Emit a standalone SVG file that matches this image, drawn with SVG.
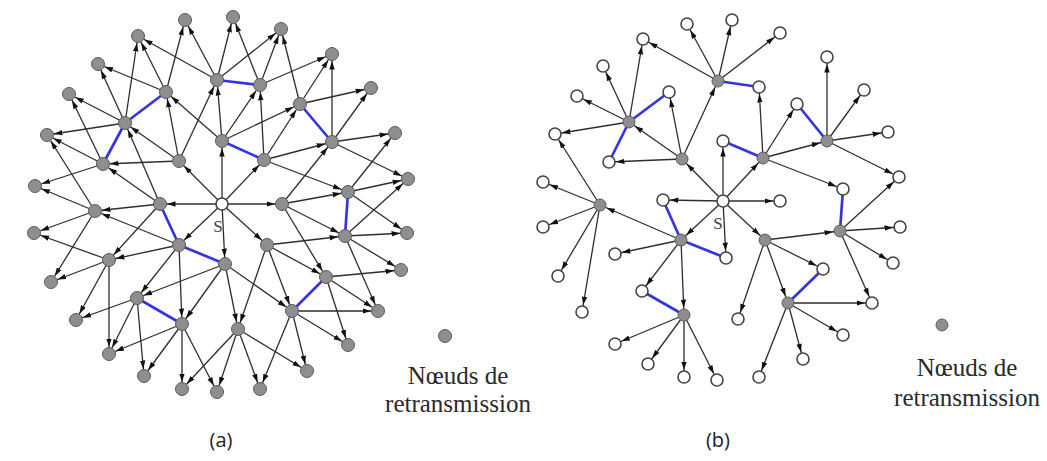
<svg xmlns="http://www.w3.org/2000/svg" width="1047" height="461" viewBox="0 0 1047 461">
<style>
.e{stroke:#2e2e2e;stroke-width:1.3;marker-end:url(#ah)}
.b{stroke:#3535e0;stroke-width:2.7;stroke-linecap:round}
.g{fill:#8e8e8e;stroke:#5c5c5c;stroke-width:1}
.w{fill:#fff;stroke:#444;stroke-width:1.6}
.t{font-family:"Liberation Serif","Times New Roman",serif;font-size:25px;fill:#2a2a2a;text-anchor:middle}
.s{font-family:"Liberation Serif","Times New Roman",serif;font-size:17px;fill:#444;text-anchor:middle}
.l{font-family:"Open Sans","Liberation Sans",Arial,sans-serif;font-size:20px;fill:#222;text-anchor:middle}
</style>
<defs>
<marker id="ah" viewBox="0 0 16 6" refX="15.5" refY="3" markerWidth="16" markerHeight="6" markerUnits="userSpaceOnUse" orient="auto"><path d="M0,0.3 L8.5,3 L0,5.7 z" fill="#111"/></marker>
</defs>
<rect width="1047" height="461" fill="#fff"/>
<g id="connectors-a">
<line class="e" x1="222" y1="204" x2="222" y2="141"/>
<line class="e" x1="222" y1="204" x2="179" y2="161"/>
<line class="e" x1="222" y1="204" x2="160" y2="204"/>
<line class="e" x1="222" y1="204" x2="179" y2="245"/>
<line class="e" x1="222" y1="204" x2="225" y2="264"/>
<line class="e" x1="222" y1="204" x2="267" y2="245"/>
<line class="e" x1="222" y1="204" x2="282" y2="204"/>
<line class="e" x1="222" y1="204" x2="264" y2="160"/>
<line class="e" x1="179" y1="161" x2="166" y2="92"/>
<line class="e" x1="179" y1="161" x2="103" y2="164"/>
<line class="e" x1="179" y1="161" x2="125" y2="123"/>
<line class="e" x1="179" y1="161" x2="217" y2="80"/>
<line class="e" x1="222" y1="141" x2="217" y2="80"/>
<line class="e" x1="222" y1="141" x2="166" y2="92"/>
<line class="e" x1="222" y1="141" x2="260" y2="85"/>
<line class="e" x1="222" y1="141" x2="300" y2="104"/>
<line class="e" x1="160" y1="204" x2="103" y2="164"/>
<line class="e" x1="160" y1="204" x2="125" y2="123"/>
<line class="e" x1="160" y1="204" x2="95" y2="211"/>
<line class="e" x1="160" y1="204" x2="109" y2="260"/>
<line class="e" x1="166" y1="92" x2="138" y2="36"/>
<line class="e" x1="166" y1="92" x2="185" y2="20"/>
<line class="e" x1="166" y1="92" x2="98" y2="64"/>
<line class="e" x1="125" y1="123" x2="138" y2="36"/>
<line class="e" x1="125" y1="123" x2="98" y2="64"/>
<line class="e" x1="125" y1="123" x2="69" y2="94"/>
<line class="e" x1="125" y1="123" x2="47" y2="135"/>
<line class="e" x1="103" y1="164" x2="69" y2="94"/>
<line class="e" x1="103" y1="164" x2="47" y2="135"/>
<line class="e" x1="103" y1="164" x2="35" y2="186"/>
<line class="e" x1="217" y1="80" x2="138" y2="36"/>
<line class="e" x1="217" y1="80" x2="185" y2="20"/>
<line class="e" x1="217" y1="80" x2="233" y2="17"/>
<line class="e" x1="217" y1="80" x2="281" y2="29"/>
<line class="e" x1="260" y1="85" x2="233" y2="17"/>
<line class="e" x1="260" y1="85" x2="281" y2="29"/>
<line class="e" x1="260" y1="85" x2="332" y2="54"/>
<line class="e" x1="264" y1="160" x2="260" y2="85"/>
<line class="e" x1="264" y1="160" x2="300" y2="104"/>
<line class="e" x1="264" y1="160" x2="332" y2="142"/>
<line class="e" x1="264" y1="160" x2="348" y2="192"/>
<line class="e" x1="300" y1="104" x2="281" y2="29"/>
<line class="e" x1="300" y1="104" x2="332" y2="54"/>
<line class="e" x1="300" y1="104" x2="371" y2="88"/>
<line class="e" x1="332" y1="142" x2="332" y2="54"/>
<line class="e" x1="332" y1="142" x2="371" y2="88"/>
<line class="e" x1="332" y1="142" x2="395" y2="133"/>
<line class="e" x1="332" y1="142" x2="408" y2="179"/>
<line class="e" x1="282" y1="204" x2="332" y2="142"/>
<line class="e" x1="282" y1="204" x2="348" y2="192"/>
<line class="e" x1="282" y1="204" x2="345" y2="236"/>
<line class="e" x1="282" y1="204" x2="326" y2="277"/>
<line class="e" x1="348" y1="192" x2="395" y2="133"/>
<line class="e" x1="348" y1="192" x2="408" y2="179"/>
<line class="e" x1="348" y1="192" x2="407" y2="233"/>
<line class="e" x1="345" y1="236" x2="408" y2="179"/>
<line class="e" x1="345" y1="236" x2="407" y2="233"/>
<line class="e" x1="345" y1="236" x2="401" y2="270"/>
<line class="e" x1="345" y1="236" x2="378" y2="311"/>
<line class="e" x1="267" y1="245" x2="345" y2="236"/>
<line class="e" x1="267" y1="245" x2="326" y2="277"/>
<line class="e" x1="267" y1="245" x2="292" y2="311"/>
<line class="e" x1="267" y1="245" x2="238" y2="329"/>
<line class="e" x1="326" y1="277" x2="401" y2="270"/>
<line class="e" x1="326" y1="277" x2="378" y2="311"/>
<line class="e" x1="326" y1="277" x2="348" y2="345"/>
<line class="e" x1="292" y1="311" x2="378" y2="311"/>
<line class="e" x1="292" y1="311" x2="348" y2="345"/>
<line class="e" x1="292" y1="311" x2="307" y2="371"/>
<line class="e" x1="292" y1="311" x2="260" y2="389"/>
<line class="e" x1="225" y1="264" x2="292" y2="311"/>
<line class="e" x1="225" y1="264" x2="238" y2="329"/>
<line class="e" x1="225" y1="264" x2="137" y2="298"/>
<line class="e" x1="225" y1="264" x2="182" y2="324"/>
<line class="e" x1="238" y1="329" x2="307" y2="371"/>
<line class="e" x1="238" y1="329" x2="260" y2="389"/>
<line class="e" x1="238" y1="329" x2="217" y2="392"/>
<line class="e" x1="238" y1="329" x2="182" y2="389"/>
<line class="e" x1="179" y1="245" x2="109" y2="260"/>
<line class="e" x1="179" y1="245" x2="137" y2="298"/>
<line class="e" x1="179" y1="245" x2="182" y2="324"/>
<line class="e" x1="179" y1="245" x2="95" y2="211"/>
<line class="e" x1="109" y1="260" x2="34" y2="233"/>
<line class="e" x1="109" y1="260" x2="51" y2="282"/>
<line class="e" x1="109" y1="260" x2="76" y2="320"/>
<line class="e" x1="109" y1="260" x2="109" y2="354"/>
<line class="e" x1="137" y1="298" x2="76" y2="320"/>
<line class="e" x1="137" y1="298" x2="109" y2="354"/>
<line class="e" x1="137" y1="298" x2="144" y2="376"/>
<line class="e" x1="182" y1="324" x2="109" y2="354"/>
<line class="e" x1="182" y1="324" x2="144" y2="376"/>
<line class="e" x1="182" y1="324" x2="182" y2="389"/>
<line class="e" x1="182" y1="324" x2="217" y2="392"/>
<line class="e" x1="95" y1="211" x2="34" y2="233"/>
<line class="e" x1="95" y1="211" x2="51" y2="282"/>
<line class="e" x1="95" y1="211" x2="35" y2="186"/>
<line class="e" x1="95" y1="211" x2="47" y2="135"/>
<line class="b" x1="166" y1="92" x2="125" y2="123"/>
<line class="b" x1="125" y1="123" x2="103" y2="164"/>
<line class="b" x1="217" y1="80" x2="260" y2="85"/>
<line class="b" x1="222" y1="141" x2="264" y2="160"/>
<line class="b" x1="300" y1="104" x2="332" y2="142"/>
<line class="b" x1="348" y1="192" x2="345" y2="236"/>
<line class="b" x1="160" y1="204" x2="179" y2="245"/>
<line class="b" x1="179" y1="245" x2="225" y2="264"/>
<line class="b" x1="137" y1="298" x2="182" y2="324"/>
<line class="b" x1="326" y1="277" x2="292" y2="311"/>
</g>
<g id="connectors-b">
<line class="e" x1="723" y1="201" x2="723" y2="141"/>
<line class="e" x1="723" y1="201" x2="763" y2="158"/>
<line class="e" x1="723" y1="201" x2="780" y2="201"/>
<line class="e" x1="723" y1="201" x2="765" y2="240"/>
<line class="e" x1="723" y1="201" x2="726" y2="258"/>
<line class="e" x1="723" y1="201" x2="681" y2="240"/>
<line class="e" x1="723" y1="201" x2="663" y2="200"/>
<line class="e" x1="723" y1="201" x2="682" y2="159"/>
<line class="e" x1="682" y1="159" x2="629" y2="122"/>
<line class="e" x1="682" y1="159" x2="609" y2="162"/>
<line class="e" x1="682" y1="159" x2="669" y2="92"/>
<line class="e" x1="682" y1="159" x2="718" y2="81"/>
<line class="e" x1="718" y1="81" x2="687" y2="24"/>
<line class="e" x1="718" y1="81" x2="732" y2="20"/>
<line class="e" x1="718" y1="81" x2="780" y2="33"/>
<line class="e" x1="718" y1="81" x2="643" y2="39"/>
<line class="e" x1="629" y1="122" x2="603" y2="66"/>
<line class="e" x1="629" y1="122" x2="643" y2="39"/>
<line class="e" x1="629" y1="122" x2="577" y2="96"/>
<line class="e" x1="629" y1="122" x2="555" y2="134"/>
<line class="e" x1="681" y1="240" x2="600" y2="205"/>
<line class="e" x1="681" y1="240" x2="615" y2="254"/>
<line class="e" x1="681" y1="240" x2="642" y2="291"/>
<line class="e" x1="681" y1="240" x2="684" y2="315"/>
<line class="e" x1="600" y1="205" x2="543" y2="182"/>
<line class="e" x1="600" y1="205" x2="555" y2="134"/>
<line class="e" x1="600" y1="205" x2="543" y2="227"/>
<line class="e" x1="600" y1="205" x2="558" y2="276"/>
<line class="e" x1="600" y1="205" x2="582" y2="312"/>
<line class="e" x1="684" y1="315" x2="615" y2="344"/>
<line class="e" x1="684" y1="315" x2="648" y2="364"/>
<line class="e" x1="684" y1="315" x2="684" y2="377"/>
<line class="e" x1="684" y1="315" x2="717" y2="380"/>
<line class="e" x1="763" y1="158" x2="759" y2="87"/>
<line class="e" x1="763" y1="158" x2="797" y2="104"/>
<line class="e" x1="763" y1="158" x2="827" y2="141"/>
<line class="e" x1="763" y1="158" x2="843" y2="189"/>
<line class="e" x1="827" y1="141" x2="827" y2="57"/>
<line class="e" x1="827" y1="141" x2="864" y2="90"/>
<line class="e" x1="827" y1="141" x2="888" y2="132"/>
<line class="e" x1="827" y1="141" x2="899" y2="177"/>
<line class="e" x1="765" y1="240" x2="840" y2="231"/>
<line class="e" x1="765" y1="240" x2="823" y2="269"/>
<line class="e" x1="765" y1="240" x2="788" y2="303"/>
<line class="e" x1="765" y1="240" x2="738" y2="319"/>
<line class="e" x1="840" y1="231" x2="900" y2="227"/>
<line class="e" x1="840" y1="231" x2="893" y2="263"/>
<line class="e" x1="840" y1="231" x2="872" y2="303"/>
<line class="e" x1="840" y1="231" x2="899" y2="177"/>
<line class="e" x1="788" y1="303" x2="872" y2="303"/>
<line class="e" x1="788" y1="303" x2="843" y2="335"/>
<line class="e" x1="788" y1="303" x2="803" y2="359"/>
<line class="e" x1="788" y1="303" x2="759" y2="377"/>
<line class="b" x1="718" y1="81" x2="759" y2="87"/>
<line class="b" x1="629" y1="122" x2="669" y2="92"/>
<line class="b" x1="629" y1="122" x2="609" y2="162"/>
<line class="b" x1="681" y1="240" x2="663" y2="200"/>
<line class="b" x1="681" y1="240" x2="726" y2="258"/>
<line class="b" x1="684" y1="315" x2="642" y2="291"/>
<line class="b" x1="763" y1="158" x2="723" y2="141"/>
<line class="b" x1="827" y1="141" x2="797" y2="104"/>
<line class="b" x1="840" y1="231" x2="843" y2="189"/>
<line class="b" x1="788" y1="303" x2="823" y2="269"/>
</g>
<g id="nodes-a">
<g id="a-S"><circle class="w" cx="222" cy="204" r="6"/><text class="s" x="218" y="232">S</text></g>
<g id="a1"><circle class="g" cx="185" cy="20" r="6.5"/></g>
<g id="a2"><circle class="g" cx="233" cy="17" r="6.5"/></g>
<g id="a3"><circle class="g" cx="281" cy="29" r="6.5"/></g>
<g id="a4"><circle class="g" cx="138" cy="36" r="6.5"/></g>
<g id="a5"><circle class="g" cx="332" cy="54" r="6.5"/></g>
<g id="a6"><circle class="g" cx="98" cy="64" r="6.5"/></g>
<g id="a7"><circle class="g" cx="217" cy="80" r="6.5"/></g>
<g id="a8"><circle class="g" cx="260" cy="85" r="6.5"/></g>
<g id="a9"><circle class="g" cx="371" cy="88" r="6.5"/></g>
<g id="a10"><circle class="g" cx="166" cy="92" r="6.5"/></g>
<g id="a11"><circle class="g" cx="69" cy="94" r="6.5"/></g>
<g id="a12"><circle class="g" cx="300" cy="104" r="6.5"/></g>
<g id="a13"><circle class="g" cx="125" cy="123" r="6.5"/></g>
<g id="a14"><circle class="g" cx="395" cy="133" r="6.5"/></g>
<g id="a15"><circle class="g" cx="47" cy="135" r="6.5"/></g>
<g id="a16"><circle class="g" cx="222" cy="141" r="6.5"/></g>
<g id="a17"><circle class="g" cx="332" cy="142" r="6.5"/></g>
<g id="a18"><circle class="g" cx="264" cy="160" r="6.5"/></g>
<g id="a19"><circle class="g" cx="179" cy="161" r="6.5"/></g>
<g id="a20"><circle class="g" cx="103" cy="164" r="6.5"/></g>
<g id="a21"><circle class="g" cx="408" cy="179" r="6.5"/></g>
<g id="a22"><circle class="g" cx="35" cy="186" r="6.5"/></g>
<g id="a23"><circle class="g" cx="348" cy="192" r="6.5"/></g>
<g id="a24"><circle class="g" cx="160" cy="204" r="6.5"/></g>
<g id="a25"><circle class="g" cx="282" cy="204" r="6.5"/></g>
<g id="a26"><circle class="g" cx="95" cy="211" r="6.5"/></g>
<g id="a27"><circle class="g" cx="34" cy="233" r="6.5"/></g>
<g id="a28"><circle class="g" cx="407" cy="233" r="6.5"/></g>
<g id="a29"><circle class="g" cx="345" cy="236" r="6.5"/></g>
<g id="a30"><circle class="g" cx="179" cy="245" r="6.5"/></g>
<g id="a31"><circle class="g" cx="267" cy="245" r="6.5"/></g>
<g id="a32"><circle class="g" cx="109" cy="260" r="6.5"/></g>
<g id="a33"><circle class="g" cx="225" cy="264" r="6.5"/></g>
<g id="a34"><circle class="g" cx="401" cy="270" r="6.5"/></g>
<g id="a35"><circle class="g" cx="326" cy="277" r="6.5"/></g>
<g id="a36"><circle class="g" cx="51" cy="282" r="6.5"/></g>
<g id="a37"><circle class="g" cx="137" cy="298" r="6.5"/></g>
<g id="a38"><circle class="g" cx="292" cy="311" r="6.5"/></g>
<g id="a39"><circle class="g" cx="378" cy="311" r="6.5"/></g>
<g id="a40"><circle class="g" cx="76" cy="320" r="6.5"/></g>
<g id="a41"><circle class="g" cx="182" cy="324" r="6.5"/></g>
<g id="a42"><circle class="g" cx="238" cy="329" r="6.5"/></g>
<g id="a43"><circle class="g" cx="348" cy="345" r="6.5"/></g>
<g id="a44"><circle class="g" cx="109" cy="354" r="6.5"/></g>
<g id="a45"><circle class="g" cx="307" cy="371" r="6.5"/></g>
<g id="a46"><circle class="g" cx="144" cy="376" r="6.5"/></g>
<g id="a47"><circle class="g" cx="182" cy="389" r="6.5"/></g>
<g id="a48"><circle class="g" cx="217" cy="392" r="6.5"/></g>
<g id="a49"><circle class="g" cx="260" cy="389" r="6.5"/></g>
</g>
<g id="nodes-b">
<g id="b-S"><circle class="w" cx="723" cy="201" r="6"/><text class="s" x="718" y="229">S</text></g>
<g id="b1"><circle class="w" cx="687" cy="24" r="6"/></g>
<g id="b2"><circle class="w" cx="732" cy="20" r="6"/></g>
<g id="b3"><circle class="w" cx="780" cy="33" r="6"/></g>
<g id="b4"><circle class="w" cx="643" cy="39" r="6"/></g>
<g id="b5"><circle class="w" cx="827" cy="57" r="6"/></g>
<g id="b6"><circle class="w" cx="603" cy="66" r="6"/></g>
<g id="b7"><circle class="g" cx="718" cy="81" r="6"/></g>
<g id="b8"><circle class="w" cx="759" cy="87" r="6"/></g>
<g id="b9"><circle class="w" cx="864" cy="90" r="6"/></g>
<g id="b10"><circle class="w" cx="669" cy="92" r="6"/></g>
<g id="b11"><circle class="w" cx="577" cy="96" r="6"/></g>
<g id="b12"><circle class="w" cx="797" cy="104" r="6"/></g>
<g id="b13"><circle class="g" cx="629" cy="122" r="6"/></g>
<g id="b14"><circle class="w" cx="888" cy="132" r="6"/></g>
<g id="b15"><circle class="w" cx="555" cy="134" r="6"/></g>
<g id="b16"><circle class="w" cx="723" cy="141" r="6"/></g>
<g id="b17"><circle class="g" cx="827" cy="141" r="6"/></g>
<g id="b18"><circle class="g" cx="763" cy="158" r="6"/></g>
<g id="b19"><circle class="g" cx="682" cy="159" r="6"/></g>
<g id="b20"><circle class="w" cx="609" cy="162" r="6"/></g>
<g id="b21"><circle class="w" cx="899" cy="177" r="6"/></g>
<g id="b22"><circle class="w" cx="543" cy="182" r="6"/></g>
<g id="b23"><circle class="w" cx="843" cy="189" r="6"/></g>
<g id="b24"><circle class="w" cx="663" cy="200" r="6"/></g>
<g id="b25"><circle class="w" cx="780" cy="201" r="6"/></g>
<g id="b26"><circle class="g" cx="600" cy="205" r="6"/></g>
<g id="b27"><circle class="w" cx="543" cy="227" r="6"/></g>
<g id="b28"><circle class="w" cx="900" cy="227" r="6"/></g>
<g id="b29"><circle class="g" cx="840" cy="231" r="6"/></g>
<g id="b30"><circle class="g" cx="681" cy="240" r="6"/></g>
<g id="b31"><circle class="g" cx="765" cy="240" r="6"/></g>
<g id="b32"><circle class="w" cx="615" cy="254" r="6"/></g>
<g id="b33"><circle class="w" cx="726" cy="258" r="6"/></g>
<g id="b34"><circle class="w" cx="893" cy="263" r="6"/></g>
<g id="b35"><circle class="w" cx="823" cy="269" r="6"/></g>
<g id="b36"><circle class="w" cx="558" cy="276" r="6"/></g>
<g id="b37"><circle class="w" cx="642" cy="291" r="6"/></g>
<g id="b38"><circle class="g" cx="788" cy="303" r="6"/></g>
<g id="b39"><circle class="w" cx="872" cy="303" r="6"/></g>
<g id="b40"><circle class="w" cx="582" cy="312" r="6"/></g>
<g id="b41"><circle class="g" cx="684" cy="315" r="6"/></g>
<g id="b42"><circle class="w" cx="738" cy="319" r="6"/></g>
<g id="b43"><circle class="w" cx="843" cy="335" r="6"/></g>
<g id="b44"><circle class="w" cx="615" cy="344" r="6"/></g>
<g id="b45"><circle class="w" cx="803" cy="359" r="6"/></g>
<g id="b46"><circle class="w" cx="648" cy="364" r="6"/></g>
<g id="b47"><circle class="w" cx="684" cy="377" r="6"/></g>
<g id="b48"><circle class="w" cx="717" cy="380" r="6"/></g>
<g id="b49"><circle class="w" cx="759" cy="377" r="6"/></g>
</g>
<g id="legend-a">
<circle class="g" cx="445" cy="336" r="6.5"/>
<text class="t" x="458" y="384">Nœuds de</text>
<text class="t" x="458" y="412">retransmission</text>
</g>
<g id="legend-b">
<circle class="g" cx="942" cy="325" r="6"/>
<text class="t" x="967" y="376">Nœuds de</text>
<text class="t" x="967" y="406">retransmission</text>
</g>
<text class="l" x="221" y="447">(a)</text>
<text class="l" x="718" y="447">(b)</text>
</svg>
